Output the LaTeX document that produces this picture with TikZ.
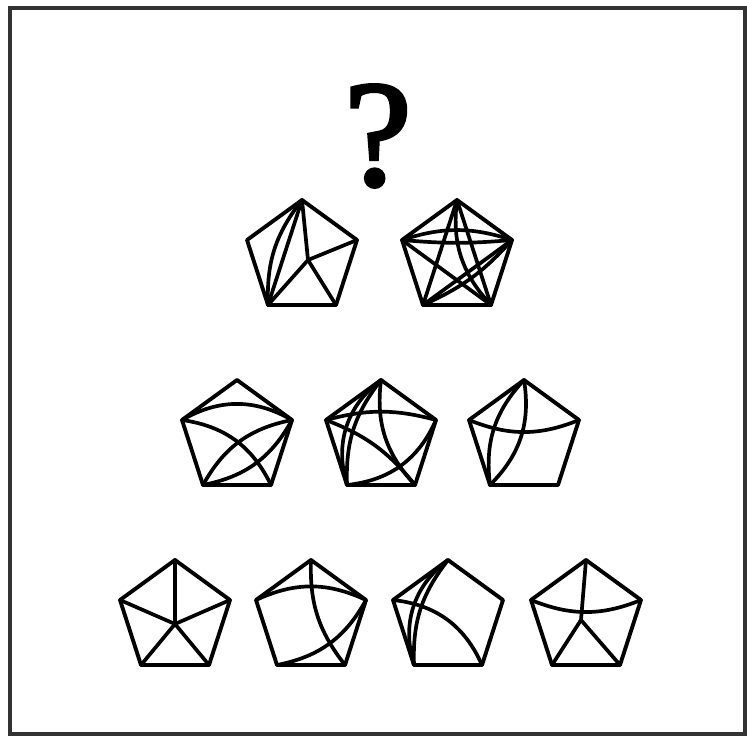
\documentclass[tikz,border=0pt]{standalone}
\usepackage{fontspec}
\usepackage{tikz}
\newfontfamily\qfont[FakeBold=2.5]{Liberation Serif}
\tikzset{
  pent/.style={line width=2.2pt, line join=round, line cap=round},
  arc/.style={line width=2.1pt, line cap=round},
}

\begin{document}
\begin{tikzpicture}[x=0.02cm, y=-0.02cm]
        \useasboundingbox (0,0) rectangle (747,737);
        % Frame
        \draw[line width=0.07cm, black!80] (10,8) rectangle (745,734);

        % Question mark
        \node[font=\qfont\fontsize{86}{86}\selectfont, inner sep=0] (q) at (378,136) {?};

        % Pentagons
        \foreach \p/\cx/\cy in {a/302/258, b/457/258, c/237/438, d/381/438, e/524/438,
                                f/175/618, g/311/618, h/448/618, i/586/618} {
            \coordinate (\p-T) at (\cx,\cy-58);
            \coordinate (\p-L) at (\cx-55,\cy-18);
            \coordinate (\p-R) at (\cx+55,\cy-18);
            \coordinate (\p-BL) at (\cx-34,\cy+47);
            \coordinate (\p-BR) at (\cx+34,\cy+47);
            \draw[pent] (\p-T) -- (\p-R) -- (\p-BR) -- (\p-BL) -- (\p-L) -- cycle;
        }
        \coordinate (a-C) at (308,260);
        \coordinate (f-C) at (175,624);
        \coordinate (i-C) at (581,620);

        % Row 1
        \draw[arc] (a-T) -- (a-BL);
        \draw[arc] (a-T) to[bend right=20] (a-BL);
        \draw[arc] (a-T) -- (a-C);
        \draw[arc] (a-R) -- (a-C);
        \draw[arc] (a-BL) -- (a-C);
        \draw[arc] (a-BR) -- (a-C);

        \draw[arc] (b-T) -- (b-BL);
        \draw[arc] (b-T) -- (b-BR);
        \draw[arc] (b-L) -- (b-BR);
        \draw[arc] (b-R) -- (b-BL);
        \draw[arc] (b-L) to[bend left=18] (b-R);
        \draw[arc] (b-L) to[bend right=5] (b-R);
        \draw[arc] (b-T) to[bend right=25] (b-BR);
        \draw[arc] (b-BL) to[bend right=12] (b-R);

        % Row 2
        \draw[arc] (c-L) to[bend left=30] (c-R);
        \draw[arc] (c-L) to[bend left=28] (c-BR);
        \draw[arc] (c-R) to[bend right=25] (c-BL);
        \draw[arc] (c-BL) to[bend right=25] (c-R);

        \draw[arc] (d-T) to[bend right=20] (d-BL);
        \draw[arc] (d-T) to[bend right=35] (d-BL);
        \draw[arc] (d-T) to[bend right=25] (d-BR);
        \draw[arc] (d-L) to[bend left=15] (d-R);
        \draw[arc] (d-L) to[bend left=15] (d-BR);
        \draw[arc] (d-BL) to[bend right=30] (d-R);

        \draw[arc] (e-L) to[bend right=22] (e-R);
        \draw[arc] (e-T) to[bend left=27] (e-BL);
        \draw[arc] (e-T) to[bend right=25] (e-BL);

        % Row 3
        \draw[arc] (f-T) -- (f-C);
        \draw[arc] (f-L) -- (f-C);
        \draw[arc] (f-R) -- (f-C);
        \draw[arc] (f-BL) -- (f-C);
        \draw[arc] (f-BR) -- (f-C);

        \draw[arc] (g-L) to[bend left=25] (g-R);
        \draw[arc] (g-T) to[bend right=20] (g-BR);
        \draw[arc] (g-BL) to[bend right=25] (g-R);

        \draw[arc] (h-T) to[bend right=20] (h-BL);
        \draw[arc] (h-T) to[bend right=35] (h-BL);
        \draw[arc] (h-L) to[bend left=30] (h-BR);

        \draw[arc] (i-T) -- (i-C);
        \draw[arc] (i-C) -- (i-BR);
        \draw[arc] (i-BL) -- (i-C);
        \draw[arc] (i-L) to[bend right=22] (i-R);
    \end{tikzpicture}
\end{document}
